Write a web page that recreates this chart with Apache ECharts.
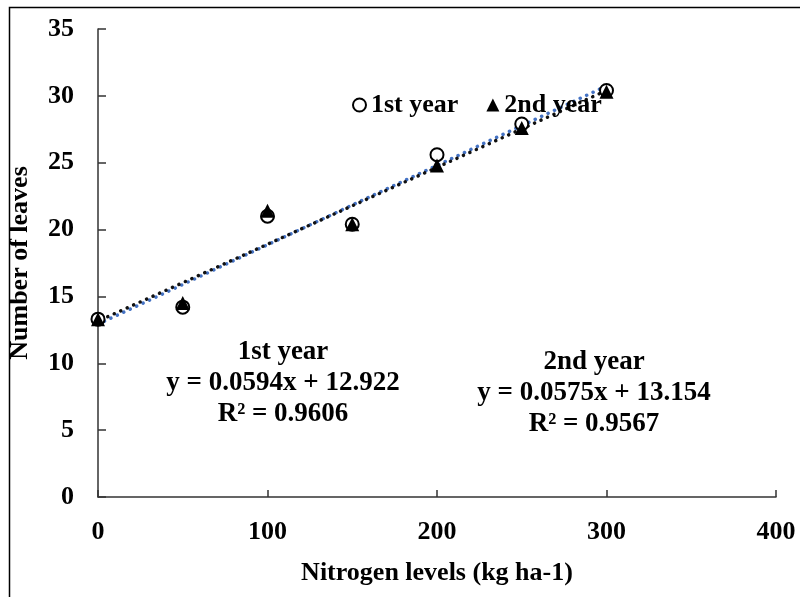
<!DOCTYPE html>
<html>
<head>
<meta charset="utf-8">
<script src="https://cdn.jsdelivr.net/npm/echarts@6/dist/echarts.min.js"></script>
<style>
  html, body { margin: 0; padding: 0; background: #fff; }
  #chart { width: 800px; height: 597px; }
</style>
</head>
<body>
<div id="chart"></div>
<script>
// Nitrogen application levels (kg ha-1)
const nitrogenLevels = [0, 50, 100, 150, 200, 250, 300];
// Mean number of leaves per plant
const leavesYear1 = [13.3, 14.2, 21.0, 20.4, 25.6, 27.9, 30.4];
const leavesYear2 = [13.3, 14.5, 21.4, 20.4, 24.8, 27.6, 30.3];
// Linear fits: [slope, intercept, R²]
const fitYear1 = [0.0594, 12.922, 0.9606];
const fitYear2 = [0.0575, 13.154, 0.9567];
const seriesNames = ['1st year', '2nd year'];

const FONT = '"Liberation Serif", "Times New Roman", serif';

function pairs(xs, ys) { return xs.map((x, i) => [x, ys[i]]); }
function fitLine(fit) {
  const x0 = nitrogenLevels[0], x1 = nitrogenLevels[nitrogenLevels.length - 1];
  return [[x0, fit[1] + fit[0] * x0], [x1, fit[1] + fit[0] * x1]];
}
function eqText(name, fit) {
  return name + '\ny = ' + fit[0] + 'x + ' + fit[1].toFixed(3) + '\nR\u00b2 = ' + fit[2];
}

const chart = echarts.init(document.getElementById('chart'), null, { renderer: 'canvas' });

chart.setOption({
  animation: false,
  backgroundColor: '#fff',
  grid: { left: 98, right: 24, top: 29, bottom: 100, outerBoundsMode: 'none', containLabel: false },
  legend: {
    left: 347, top: 87,
    itemWidth: 13, itemHeight: 13, itemGap: 28,
    textStyle: { fontFamily: FONT, fontWeight: 'bold', fontSize: 26, color: '#000' },
    data: seriesNames
  },
  xAxis: {
    type: 'value', min: 0, max: 400, interval: 100,
    name: 'Nitrogen levels (kg ha-1)', nameLocation: 'middle', nameGap: 63,
    nameTextStyle: { fontFamily: FONT, fontWeight: 'bold', fontSize: 26, color: '#000' },
    axisLine: { lineStyle: { color: '#333', width: 1.5 } },
    axisTick: { inside: true, length: 7, lineStyle: { color: '#333', width: 1.5 } },
    axisLabel: { margin: 22, fontFamily: FONT, fontWeight: 'bold', fontSize: 26, color: '#000' },
    splitLine: { show: false }
  },
  yAxis: {
    type: 'value', min: 0, max: 35, interval: 5,
    name: 'Number of leaves', nameLocation: 'middle', nameGap: 65,
    nameTextStyle: { fontFamily: FONT, fontWeight: 'bold', fontSize: 26, color: '#000' },
    axisLine: { show: true, lineStyle: { color: '#333', width: 1.5 } },
    axisTick: { show: true, inside: true, length: 8, lineStyle: { color: '#333', width: 1.5 } },
    axisLabel: { margin: 24, fontFamily: FONT, fontWeight: 'bold', fontSize: 26, color: '#000' },
    splitLine: { show: false }
  },
  graphic: [
    {
      type: 'rect', silent: true, z: -1,
      shape: { x: 9.5, y: 7.5, width: 800, height: 600 },
      style: { fill: 'none', stroke: '#000', lineWidth: 1.5 }
    },
    {
      type: 'text', x: 283, y: 337, silent: true,
      style: {
        text: eqText(seriesNames[0], fitYear1), align: 'center', verticalAlign: 'top',
        font: 'bold 27px ' + FONT, lineHeight: 31, fill: '#000'
      }
    },
    {
      type: 'text', x: 594, y: 347, silent: true,
      style: {
        text: eqText(seriesNames[1], fitYear2), align: 'center', verticalAlign: 'top',
        font: 'bold 27px ' + FONT, lineHeight: 31, fill: '#000'
      }
    }
  ],
  series: [
    {
      name: 'fit1', type: 'line', data: fitLine(fitYear1), symbol: 'none', z: 2,
      lineStyle: { color: '#4472C4', width: 3.5, type: [0.1, 7], cap: 'round' }
    },
    {
      name: 'fit2', type: 'line', data: fitLine(fitYear2), symbol: 'none', z: 3,
      lineStyle: { color: '#111', width: 3.5, type: [0.1, 7], dashOffset: 3.5, cap: 'round' }
    },
    {
      name: seriesNames[0], type: 'scatter', data: pairs(nitrogenLevels, leavesYear1),
      symbol: 'circle', symbolSize: 13, z: 4,
      itemStyle: { color: '#fff', borderColor: '#000', borderWidth: 2, opacity: 1 }
    },
    {
      name: seriesNames[1], type: 'scatter', data: pairs(nitrogenLevels, leavesYear2),
      symbol: 'triangle', symbolSize: 14, z: 5,
      itemStyle: { color: '#000', opacity: 1 }
    }
  ]
});
</script>
</body>
</html>
